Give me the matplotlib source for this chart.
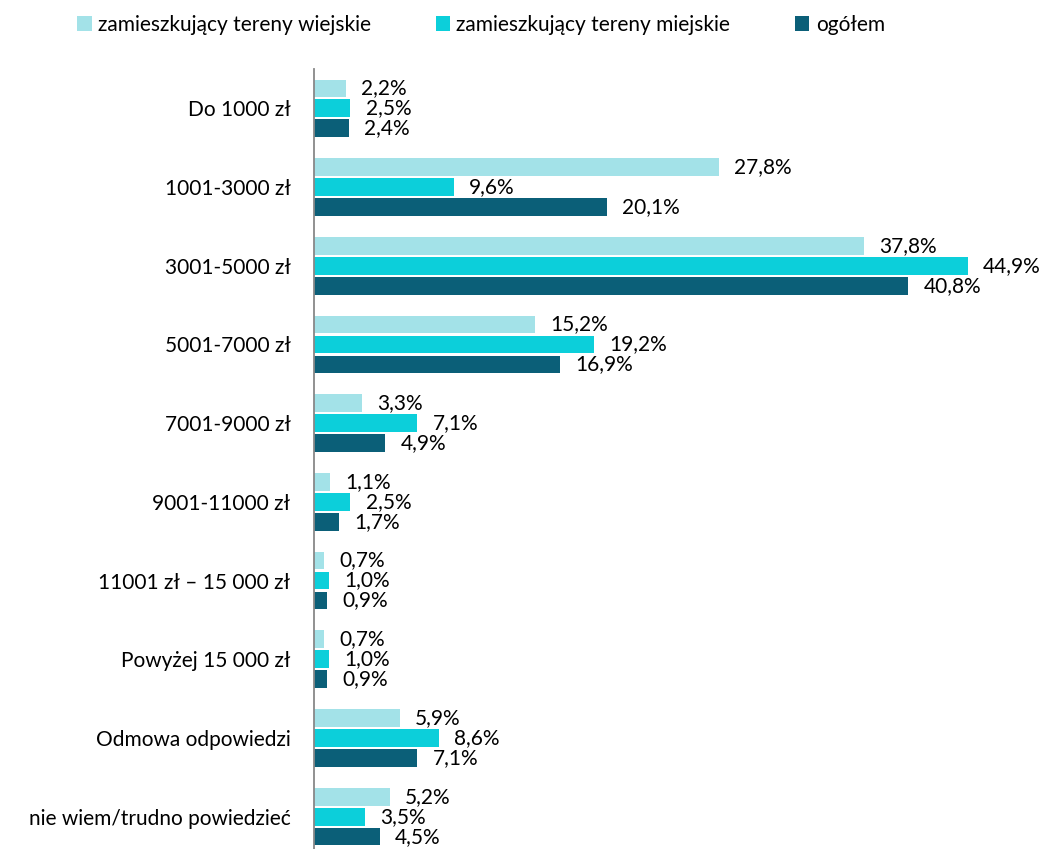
import matplotlib.pyplot as plt
import numpy as np

plt.rcParams['font.family'] = ['Lato', 'DejaVu Sans']

categories = ["Do 1000 zł", "1001-3000 zł", "3001-5000 zł", "5001-7000 zł", "7001-9000 zł",
              "9001-11000 zł", "11001 zł – 15 000 zł", "Powyżej 15 000 zł",
              "Odmowa odpowiedzi", "nie wiem/trudno powiedzieć"]
wiejskie = [2.2, 27.8, 37.8, 15.2, 3.3, 1.1, 0.7, 0.7, 5.9, 5.2]
miejskie = [2.5, 9.6, 44.9, 19.2, 7.1, 2.5, 1.0, 1.0, 8.6, 3.5]
ogolem = [2.4, 20.1, 40.8, 16.9, 4.9, 1.7, 0.9, 0.9, 7.1, 4.5]

series = [("zamieszkujący tereny wiejskie", wiejskie, "#a3e2e8"),
          ("zamieszkujący tereny miejskie", miejskie, "#0ccfda"),
          ("ogółem", ogolem, "#0b5f78")]

W, H = 1046, 849
fig = plt.figure(figsize=(W / 100, H / 100), dpi=100)
ax = fig.add_axes([314 / W, -7 / H, 728 / W, 787 / H])

y = np.arange(len(categories))
offsets = [-0.254, 0, 0.254]
for (name, vals, col), off in zip(series, offsets):
    bars = ax.barh(y + off, vals, height=0.225, color=col, label=name)
    for b, v in zip(bars, vals):
        ax.annotate(f"{v:.1f}%".replace(".", ","), (v, b.get_y() + b.get_height() / 2),
                    xytext=(11, 0), textcoords="offset points", va="center", ha="left",
                    fontsize=15, color="#000000")

ax.set_xlim(0, 50)
ax.set_ylim(len(categories) - 0.5, -0.5)
ax.set_yticks(y)
ax.set_yticklabels(categories, fontsize=15)
ax.tick_params(axis="y", length=0, pad=17)
ax.set_xticks([])
for s in ["top", "right", "bottom"]:
    ax.spines[s].set_visible(False)
ax.spines["left"].set_color("#888888")
ax.spines["left"].set_linewidth(1.3)

fig.legend(loc="center", bbox_to_anchor=(481 / W, 1 - 25 / H), ncol=3, frameon=False,
           fontsize=15, handlelength=0.7, handleheight=0.7, handletextpad=0.3,
           columnspacing=3.1)

fig.savefig("out.png", dpi=100)
